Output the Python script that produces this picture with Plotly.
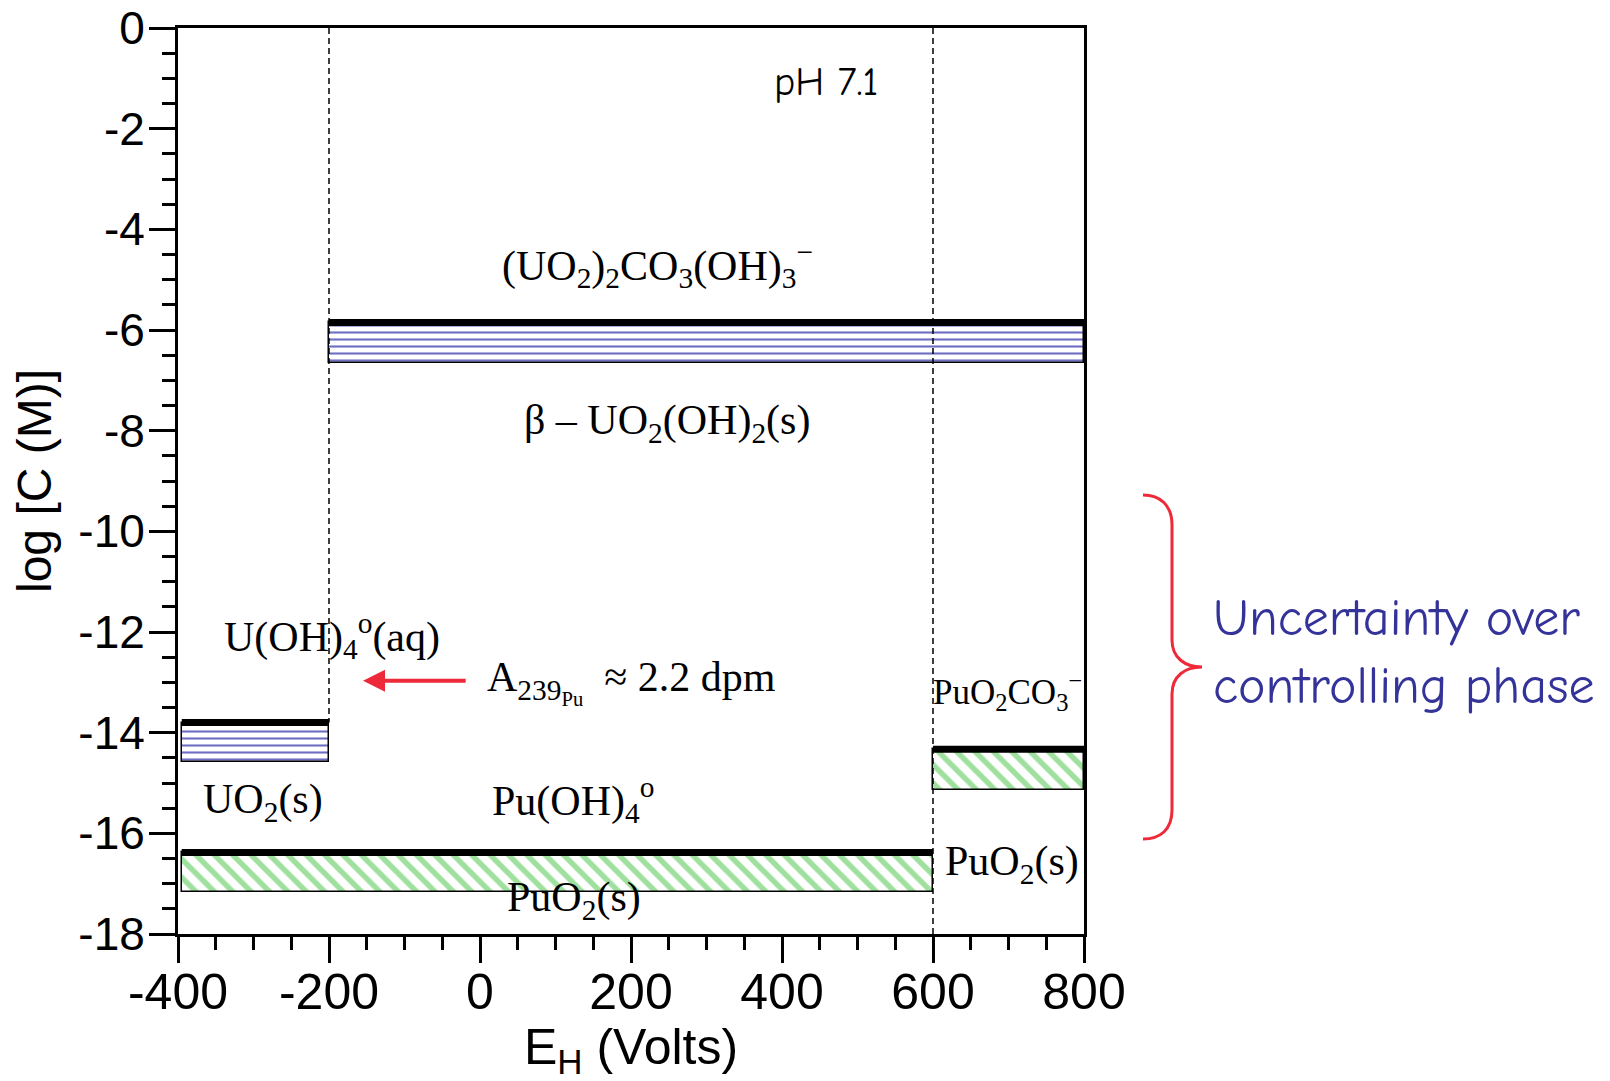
import plotly.graph_objects as go

# ---------------- data ----------------
# Uranium solubility bands: Eh range (mV) and log[C] limits
u_eh_start = [-395, -200]
u_eh_end = [-200, 800]
u_logc_top = [-13.80, -5.85]
u_logc_bottom = [-14.58, -6.65]

# Plutonium solubility bands
pu_eh_start = [-395, 600]
pu_eh_end = [600, 800]
pu_logc_top = [-16.38, -14.33]
pu_logc_bottom = [-17.17, -15.14]

# Phase boundaries (dashed verticals)
boundary_eh = [-200, 600]
boundary_logc_top = [0, 0]
boundary_logc_bottom = [-13.8, -18]

x_tick_vals = [-400, -200, 0, 200, 400, 600, 800]
x_tick_text = ["-400", "-200", "0", "200", "400", "600", "800"]
y_tick_vals = [0, -2, -4, -6, -8, -10, -12, -14, -16, -18]
y_tick_text = ["0", "-2", "-4", "-6", "-8", "-10", "-12", "-14", "-16", "-18"]

# ---------------- layout geometry ----------------
W, H = 1610, 1081
L, R, T, B = 178, 526, 28, 147
PW, PH = W - L - R, H - T - B


def px2paper(px, py):
    return (px - L) / PW, (H - B - py) / PH


SERIF = "Liberation Serif, Times New Roman, serif"
SANS = "Liberation Sans, Arial, sans-serif"
HAND = "Comic Sans MS, Comic Neue, DejaVu Sans, sans-serif"


def band_trace(x0s, x1s, tops, bots, shape, fg, size, solidity):
    centers = [(a + b) / 2 for a, b in zip(x0s, x1s)]
    widths = [b - a for a, b in zip(x0s, x1s)]
    heights = [t - b for t, b in zip(tops, bots)]
    return go.Bar(
        x=centers, y=heights, base=bots, width=widths,
        marker=dict(
            color="white",
            line=dict(color="black", width=1.5),
            pattern=dict(shape=shape, fgcolor=fg, bgcolor="white",
                         size=size, solidity=solidity, fillmode="replace"),
        ),
        hoverinfo="skip", showlegend=False,
    )


def top_line_trace(x0s, x1s, tops):
    xs, ys = [], []
    for a, b, t in zip(x0s, x1s, tops):
        xs += [a, b, None]
        ys += [t, t, None]
    return go.Scatter(x=xs, y=ys, mode="lines",
                      line=dict(color="black", width=7),
                      hoverinfo="skip", showlegend=False)


fig = go.Figure()

# dashed phase boundaries
bx, by = [], []
for e, t, b in zip(boundary_eh, boundary_logc_top, boundary_logc_bottom):
    bx += [e, e, None]
    by += [t, b, None]
fig.add_trace(go.Scatter(x=bx, y=by, mode="lines",
                         line=dict(color="black", width=1.5, dash="6px,4px"),
                         hoverinfo="skip", showlegend=False))

fig.add_trace(band_trace(u_eh_start, u_eh_end, u_logc_top, u_logc_bottom,
                         "-", "#6e6ec4", 7, 0.3))
fig.add_trace(band_trace(pu_eh_start, pu_eh_end, pu_logc_top, pu_logc_bottom,
                         "\\", "#9fe09f", 13, 0.42))
fig.add_trace(top_line_trace(u_eh_start, u_eh_end, u_logc_top))
fig.add_trace(top_line_trace(pu_eh_start, pu_eh_end, pu_logc_top))

# ---------------- annotations ----------------
def lab(text, x, y, size=42, xanchor="center", font=SERIF, color="black"):
    fig.add_annotation(x=x, y=y, xref="x", yref="y", text=text, showarrow=False,
                       xanchor=xanchor, yanchor="middle",
                       font=dict(family=font, size=size, color=color))


lab("pH 7.1", 458, -1.07, size=40, font=HAND)
lab("(UO<sub>2</sub>)<sub>2</sub>CO<sub>3</sub>(OH)<sub>3</sub><sup>−</sup>", 235, -4.7)
lab("β – UO<sub>2</sub>(OH)<sub>2</sub>(s)", 248, -7.85)
lab("U(OH)<sub>4</sub><sup>o</sup>(aq)", -196, -12.07)
lab("A<sub>239<sub>Pu</sub></sub>  ≈ 2.2 dpm", 6, -13.0, xanchor="left")
lab("UO<sub>2</sub>(s)", -287, -15.37)
lab("Pu(OH)<sub>4</sub><sup>o</sup>", 123, -15.33)
lab("PuO<sub>2</sub>(s)", 125, -17.33)
lab("PuO<sub>2</sub>CO<sub>3</sub><sup>−</sup>", 699, -13.18, size=35)
lab("PuO<sub>2</sub>(s)", 704, -16.6)

# red arrow
fig.add_annotation(x=-155, y=-12.97, ax=-17, ay=-12.97, xref="x", yref="y",
                   axref="x", ayref="y", text="", showarrow=True,
                   arrowhead=2, arrowsize=1.1, arrowwidth=4,
                   arrowcolor="#ee2a3a", standoff=0)

# uncertainty text
tx, ty = px2paper(1211, 652)
fig.add_annotation(x=tx, y=ty, xref="paper", yref="paper",
                   text="Uncertainty over<br>controlling phase",
                   showarrow=False, xanchor="left", yanchor="middle", align="left",
                   font=dict(family=HAND, size=52, color="#333399"))

# brace
pts = [(1143, 495), (1160, 495), (1172, 505), (1172, 525), (1172, 640),
       (1172, 658), (1185, 667), (1202, 667), (1185, 667), (1172, 676),
       (1172, 694), (1172, 810), (1172, 830), (1160, 839), (1143, 839)]
pp = [px2paper(*p) for p in pts]
path = "M {0},{1} C {2},{3} {4},{5} {6},{7} L {8},{9} C {10},{11} {12},{13} {14},{15} " \
       "C {16},{17} {18},{19} {20},{21} L {22},{23} C {24},{25} {26},{27} {28},{29}"
flat = [c for p in pp for c in p]
fig.add_shape(type="path", path=path.format(*flat), xref="paper", yref="paper",
              line=dict(color="#ee2a3a", width=3))

fig.update_layout(
    width=W, height=H,
    margin=dict(l=L, r=R, t=T, b=B, pad=0, autoexpand=False),
    paper_bgcolor="white", plot_bgcolor="white",
    barmode="overlay", bargap=0,
    showlegend=False,
)
fig.update_xaxes(
    range=[-400, 800], tickvals=x_tick_vals, ticktext=x_tick_text,
    showgrid=False, zeroline=False, automargin=False,
    showline=True, linecolor="black", linewidth=3, mirror=True,
    ticks="outside", ticklen=26, tickwidth=3, tickcolor="black",
    ticklabelstandoff=-14,
    minor=dict(ticks="outside", ticklen=13, tickwidth=3, tickcolor="black", dtick=50, showgrid=False),
    tickfont=dict(family=SANS, size=50, color="black"),
    title=dict(text="E<sub>H</sub> (Volts)", font=dict(family=SANS, size=50, color="black"), standoff=4),
)
fig.update_yaxes(
    range=[-18, 0], tickvals=y_tick_vals, ticktext=y_tick_text,
    showgrid=False, zeroline=False, automargin=False,
    showline=True, linecolor="black", linewidth=3, mirror=True,
    ticks="outside", ticklen=26, tickwidth=3, tickcolor="black",
    ticklabelstandoff=-5,
    minor=dict(ticks="outside", ticklen=13, tickwidth=3, tickcolor="black", dtick=0.5, showgrid=False),
    tickfont=dict(family=SANS, size=46, color="black"),
    title=dict(text="log [C (M)]", font=dict(family=SANS, size=48, color="black"), standoff=12),
)

fig.write_html("out.html", config={"displayModeBar": False},
               post_script="document.body.style.margin='0';document.body.style.overflow='hidden';")
